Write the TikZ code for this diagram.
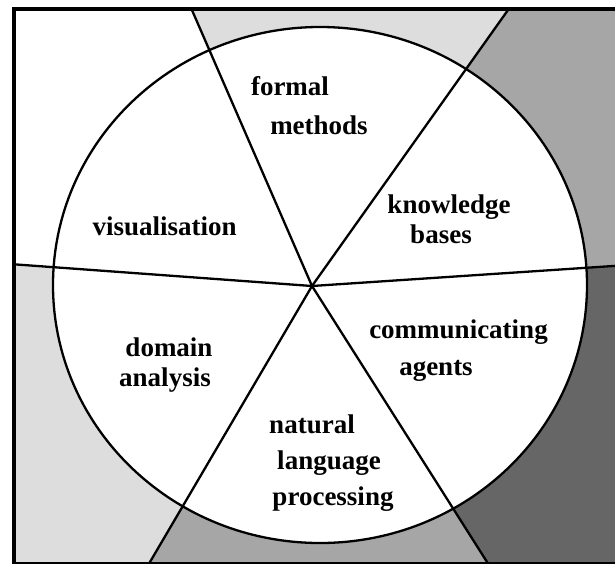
\documentclass[tikz,border=0pt]{standalone}
\usepackage{fontspec}
\setmainfont{Liberation Serif}
\definecolor{shadeA}{HTML}{DDDDDD}
\definecolor{shadeB}{HTML}{A6A6A6}
\definecolor{shadeC}{HTML}{666666}
\tikzset{
  label/.style={anchor=base, inner sep=0pt, font=\fontsize{27}{32}\selectfont\bfseries},
  spoke/.style={line width=2.3pt, black},
  rim/.style={line width=2.3pt, black, fill=white},
  frame/.style={line width=4pt, black}
}
\begin{document}
\begin{tikzpicture}[x=1pt, y=-1pt]
  \useasboundingbox (0,0) rectangle (615,563);
  \clip (0,0) rectangle (615,563);
  % hub and the points where the spokes meet the frame
  \coordinate (hub) at (312,286);
  \coordinate (p1) at (191.5,9);
  \coordinate (p2) at (508.7,9);
  \coordinate (p3) at (14,264.3);
  \coordinate (p4) at (619,265.6);
  \coordinate (p5) at (148.8,564);
  \coordinate (p6) at (488.3,564);
  % shaded wedges outside the wheel
  \fill[shadeA] (hub) -- (p1) -- (p2) -- cycle;
  \fill[shadeB] (hub) -- (p2) -- (619,9) -- (p4) -- cycle;
  \fill[shadeC] (hub) -- (p4) -- (619,564) -- (p6) -- cycle;
  \fill[shadeB] (hub) -- (p6) -- (p5) -- cycle;
  \fill[shadeA] (hub) -- (p5) -- (14,564) -- (p3) -- cycle;
  % the wheel
  \draw[rim] (320,285) ellipse [x radius=267, y radius=258];
  % spokes
  \foreach \p in {p1,p2,p3,p4,p5,p6} \draw[spoke] (hub) -- (\p);
  % outer frame
  \draw[frame] (14,9) rectangle (619,564);
  % sector labels
  \node[label] (formal) at (290,95) {formal};
  \node[label] (methods) at (319,134) {methods};
  \node[label] (knowledge) at (449,213) {knowledge};
  \node[label] (bases) at (441,243.5) {bases};
  \node[label] (visual) at (164.7,235) {visualisation};
  \node[label] (domain) at (169,356.5) {domain};
  \node[label] (analysis) at (165,386.5) {analysis};
  \node[label] (commun) at (458.5,338) {communicating};
  \node[label] (agents) at (436,375) {agents};
  \node[label] (natural) at (312,433) {natural};
  \node[label] (language) at (329,469) {language};
  \node[label] (processing) at (333,505) {processing};
\end{tikzpicture}
\end{document}
